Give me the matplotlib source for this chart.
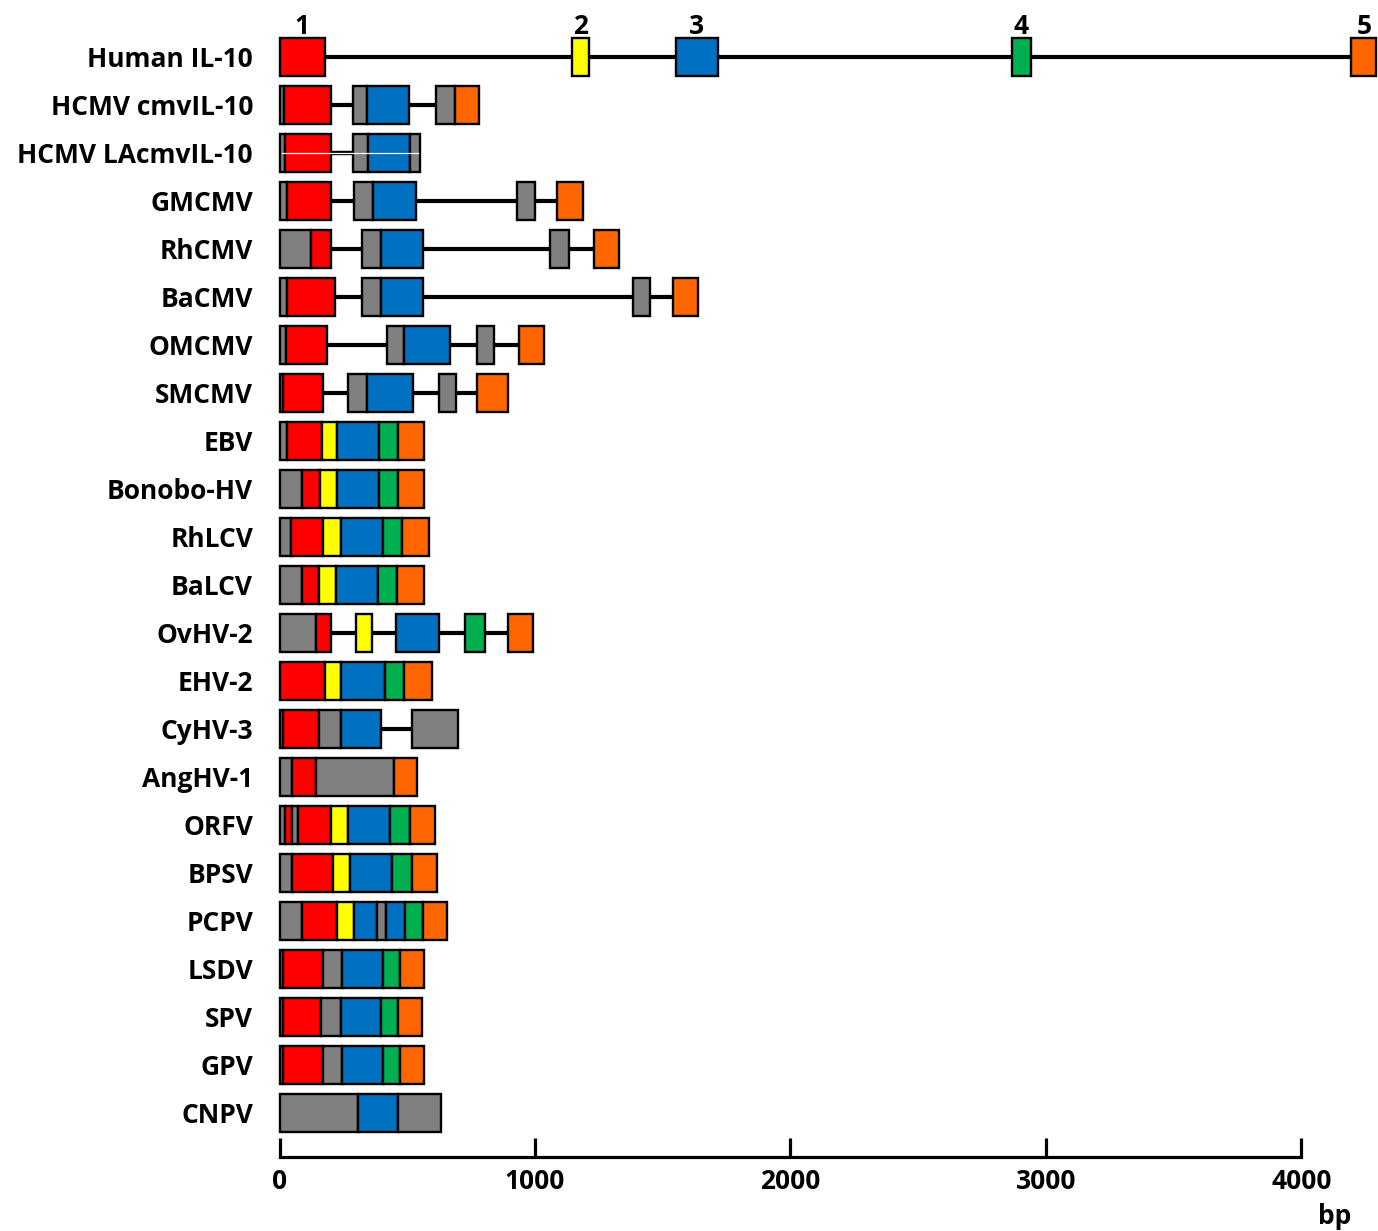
import matplotlib
matplotlib.use('Agg')
import matplotlib.pyplot as plt
from matplotlib.patches import Rectangle

plt.rcParams['font.family'] = ['Open Sans', 'DejaVu Sans']
plt.rcParams['font.weight'] = 'bold'

# segment colours
COLORS = {'g': '#808080', 'r': '#FF0000', 'y': '#FFFF00',
          'b': '#0070C0', 'n': '#00B050', 'o': '#FF6600'}

NAMES = ['Human IL-10', 'HCMV cmvIL-10', 'HCMV LAcmvIL-10', 'GMCMV', 'RhCMV',
         'BaCMV', 'OMCMV', 'SMCMV', 'EBV', 'Bonobo-HV', 'RhLCV', 'BaLCV',
         'OvHV-2', 'EHV-2', 'CyHV-3', 'AngHV-1', 'ORFV', 'BPSV', 'PCPV',
         'LSDV', 'SPV', 'GPV', 'CNPV']

# (start bp, end bp, kind) per gene; gaps between segments are introns
human_il10 = [(0, 178, 'r'), (1144, 1213, 'y'), (1551, 1715, 'b'), (2866, 2941, 'n'), (4196, 4294, 'o')]
hcmv = [(0, 19, 'g'), (19, 200, 'r'), (289, 341, 'g'), (341, 508, 'b'), (612, 687, 'g'), (687, 780, 'o')]
hcmv_la = [(0, 20, 'g'), (20, 202, 'r'), (289, 345, 'g'), (345, 510, 'b'), (510, 549, 'g')]
gmcmv = [(0, 28, 'g'), (28, 200, 'r'), (292, 367, 'g'), (367, 533, 'b'), (930, 1000, 'g'), (1087, 1187, 'o')]
rhcmv = [(0, 122, 'g'), (122, 202, 'r'), (322, 397, 'g'), (397, 563, 'b'), (1059, 1134, 'g'), (1232, 1330, 'o')]
bacmv = [(0, 30, 'g'), (30, 217, 'r'), (322, 397, 'g'), (397, 563, 'b'), (1382, 1450, 'g'), (1539, 1638, 'o')]
omcmv = [(0, 26, 'g'), (26, 185, 'r'), (420, 487, 'g'), (487, 667, 'b'), (774, 841, 'g'), (939, 1036, 'o')]
smcmv = [(0, 14, 'g'), (14, 171, 'r'), (269, 344, 'g'), (344, 524, 'b'), (623, 690, 'g'), (774, 893, 'o')]
ebv = [(0, 28, 'g'), (28, 165, 'r'), (165, 224, 'y'), (224, 389, 'b'), (389, 465, 'n'), (465, 564, 'o')]
bonobo = [(0, 89, 'g'), (89, 158, 'r'), (158, 225, 'y'), (225, 391, 'b'), (391, 465, 'n'), (465, 566, 'o')]
rhlcv = [(0, 44, 'g'), (44, 171, 'r'), (171, 240, 'y'), (240, 406, 'b'), (406, 481, 'n'), (481, 586, 'o')]
balcv = [(0, 89, 'g'), (89, 153, 'r'), (153, 221, 'y'), (221, 387, 'b'), (387, 461, 'n'), (461, 567, 'o')]
ovhv2 = [(0, 142, 'g'), (142, 202, 'r'), (299, 361, 'y'), (456, 624, 'b'), (726, 804, 'n'), (893, 992, 'o')]
ehv2 = [(0, 178, 'r'), (178, 240, 'y'), (240, 413, 'b'), (413, 489, 'n'), (489, 596, 'o')]
cyhv3 = [(0, 12, 'g'), (12, 156, 'r'), (156, 240, 'g'), (240, 397, 'b'), (517, 699, 'g')]
anghv1 = [(0, 50, 'g'), (50, 142, 'r'), (142, 449, 'g'), (449, 539, 'o')]
orfv = [(0, 21, 'g'), (21, 50, 'r'), (50, 74, 'g'), (74, 202, 'r'), (202, 268, 'y'), (268, 434, 'b'), (434, 510, 'n'), (510, 608, 'o')]
bpsv = [(0, 50, 'g'), (50, 208, 'r'), (208, 276, 'y'), (276, 442, 'b'), (442, 517, 'n'), (517, 615, 'o')]
pcpv = [(0, 89, 'g'), (89, 225, 'r'), (225, 292, 'y'), (292, 382, 'b'), (382, 417, 'g'), (417, 491, 'b'), (491, 563, 'n'), (563, 654, 'o')]
lsdv = [(0, 12, 'g'), (12, 171, 'r'), (171, 246, 'g'), (246, 404, 'b'), (404, 472, 'n'), (472, 564, 'o')]
spv = [(0, 12, 'g'), (12, 162, 'r'), (162, 240, 'g'), (240, 397, 'b'), (397, 465, 'n'), (465, 558, 'o')]
gpv = [(0, 12, 'g'), (12, 171, 'r'), (171, 246, 'g'), (246, 404, 'b'), (404, 472, 'n'), (472, 564, 'o')]
cnpv = [(0, 306, 'g'), (306, 465, 'b'), (465, 632, 'g')]

GENES = [human_il10, hcmv, hcmv_la, gmcmv, rhcmv, bacmv, omcmv, smcmv, ebv, bonobo,
         rhlcv, balcv, ovhv2, ehv2, cyhv3, anghv1, orfv, bpsv, pcpv, lsdv, spv, gpv, cnpv]

EXON_LABELS = ['1', '2', '3', '4', '5']

BOX_H = 0.79
FS = 19

fig = plt.figure(figsize=(13.78, 12.31), dpi=100)
ax = fig.add_axes([279.5 / 1378, (1231 - 1157) / 1231, 1 - 279.5 / 1378, 1157 / 1231])

for row, segs in enumerate(GENES):
    x0 = min(s[0] for s in segs)
    x1 = max(s[1] for s in segs)
    if row == 2:
        # LAcmvIL-10 drawn with a double intron line
        ax.plot([segs[1][1], segs[2][0]], [row, row], color='black', lw=3.2,
                solid_capstyle='butt', zorder=1)
        ax.plot([8, 543], [row, row], color='white', lw=0.9, zorder=4)
    else:
        ax.plot([x0, x1], [row, row], color='black', lw=3.0,
                solid_capstyle='butt', zorder=1)
    for a, b, k in segs:
        ax.add_patch(Rectangle((a, row - BOX_H / 2), b - a, BOX_H,
                               facecolor=COLORS[k], edgecolor='black', lw=1.7,
                               zorder=2, clip_on=False))

for lab, (a, b, _) in zip(EXON_LABELS, human_il10):
    ax.text((a + b) / 2, -BOX_H / 2 + 0.04, lab, ha='center', va='bottom',
            fontsize=FS, fontweight='bold')

ax.set_xlim(0, 4300)
ax.set_ylim(22.92, -1.1875)

for side in ['top', 'right', 'left']:
    ax.spines[side].set_visible(False)
ax.spines['bottom'].set_linewidth(2.3)
ax.spines['bottom'].set_bounds(0, 4000)
ax.spines['bottom'].set_capstyle('projecting')

ax.set_xticks([0, 1000, 2000, 3000, 4000])
ax.set_xticklabels(['0', '1000', '2000', '3000', '4000'], fontsize=FS, fontweight='bold')
ax.tick_params(axis='x', direction='in', length=13.5, width=2.3, pad=8)

ax.set_yticks(range(len(NAMES)))
ax.set_yticklabels(NAMES, fontsize=FS, fontweight='bold')
ax.tick_params(axis='y', length=0, pad=19)

ax.text(4130, 24.15, 'bp', ha='center', va='center', fontsize=FS, fontweight='bold')

fig.savefig('out.png', dpi=100)
